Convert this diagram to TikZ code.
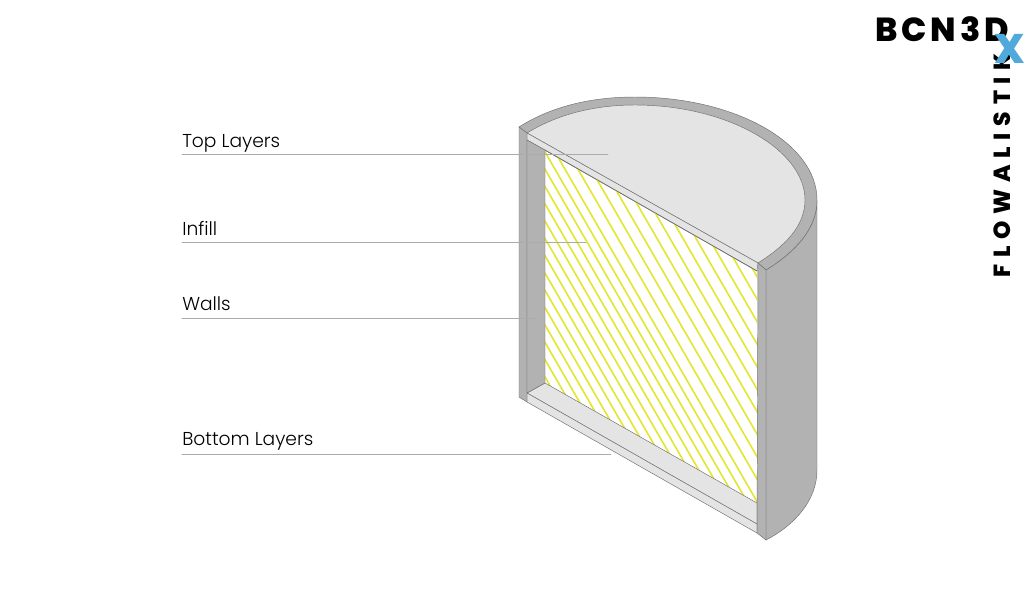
\documentclass[tikz,border=0pt]{standalone}
\usepackage{fontspec}
\setmainfont{Poppins}[UprightFont=* Light,BoldFont=* ExtraBold]
\definecolor{wallgrey}{HTML}{B2B2B2}
\definecolor{layergrey}{HTML}{E4E4E4}
\definecolor{edgegrey}{HTML}{707070}
\definecolor{leadergrey}{HTML}{ABABAB}
\definecolor{infillyellow}{HTML}{E3E630}
\definecolor{logoblue}{HTML}{4FA9DB}
\begin{document}
\begin{tikzpicture}[x=0.75pt, y=-0.75pt, line cap=round,
    wall/.style={fill=wallgrey, draw=edgegrey, line width=0.35pt},
    layer/.style={fill=layergrey, draw=edgegrey, line width=0.35pt},
    lbl/.style={anchor=base west, inner sep=0pt, font=\fontsize{14}{16}\selectfont},
    leader/.style={draw=leadergrey, line width=0.5pt}]
  \useasboundingbox (0,0) rectangle (1024,600);

  % buitenwand
  \draw[wall] (766,270) .. controls (795,252) and (817,229) .. (817,200)
    -- (817,470) .. controls (817,500) and (795,525) .. (766,540) -- cycle;

  % rand en toplaag
  \draw[wall] (519,127) .. controls (552,106) and (592,97) .. (635,97)
    .. controls (735,97) and (817,143) .. (817,200)
    .. controls (817,229) and (795,252) .. (766,270) -- (758,263) -- (527,133) -- cycle;
  \draw[layer] (527,133) .. controls (558,114) and (595,105) .. (635,105)
    .. controls (728,105) and (805,150) .. (805,200)
    .. controls (805,226) and (785,246) .. (758,263) -- cycle;
  \draw[layer] (527,133) -- (758,263) -- (757,271) -- (527,140) -- cycle;

  % infill
  \begin{scope}
    \clip (545,150) -- (757,271) -- (757,503) -- (545,383) -- cycle;
    \foreach \c in {327,337,...,467,480,493,...,597}
      \draw[infillyellow, line width=1.2pt] (\c+58,100) -- (\c+318,550);
  \end{scope}
  \draw[edgegrey, line width=0.5pt] (545,150) -- (757,271);

  % bodemlagen
  \draw[layer] (527,393) -- (545,383) -- (757,503) -- (757,524) -- cycle;
  \draw[layer] (527,393) -- (757,524) -- (757,533) -- (527,402) -- cycle;

  % wanden
  \draw[wall] (519,127) -- (527,133) -- (527,402) -- (519,397) -- cycle;
  \draw[wall] (527,140) -- (545,150) -- (545,383) -- (527,393) -- cycle;
  \draw[wall] (758,263) -- (766,270) -- (766,540) -- (757,533) -- cycle;

  % labels
  \node[lbl] (toplbl)    at (182,147) {Top Layers};
  \node[lbl] (infilllbl) at (182,235) {Infill};
  \node[lbl] (wallslbl)  at (182,310) {Walls};
  \node[lbl] (botlbl)    at (182,445) {Bottom Layers};

  % eindpunten
  \coordinate (toptip)    at (608,154);
  \coordinate (infilltip) at (586,242);
  \coordinate (wallstip)  at (536,318);
  \coordinate (bottip)    at (611,454);

  \draw[leader] (toplbl.base west |- toptip) -- (toptip);
  \draw[leader] (infilllbl.base west |- infilltip) -- (infilltip);
  \draw[leader] (wallslbl.base west |- wallstip) -- (wallstip);
  \draw[leader] (botlbl.base west |- bottip) -- (bottip);

  % logo
  \node[anchor=base west, inner sep=0pt, font=\bfseries\fontsize{25}{25}\selectfont\addfontfeatures{LetterSpace=12}] (bcnlbl) at (875,41) {BCN3D};
  \node[anchor=base west, inner sep=0pt, rotate=90, font=\bfseries\fontsize{17.5}{18}\selectfont\addfontfeatures{LetterSpace=29}] (flowlbl) at (1010,278) {FLOWALISTIK};
  \node[anchor=base, inner sep=0pt, text=logoblue, font=\bfseries\fontsize{31}{31}\selectfont] (xlbl) at (1010,63) {X};
\end{tikzpicture}
\end{document}
